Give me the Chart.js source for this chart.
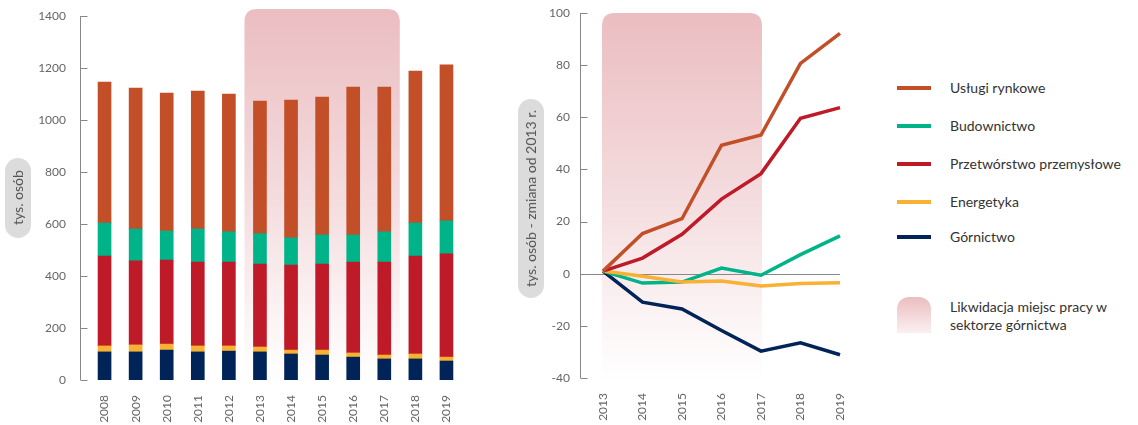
<!DOCTYPE html>
<html>
<head>
<meta charset="utf-8">
<script src="https://cdn.jsdelivr.net/npm/chart.js@4"></script>
<style>
  body { margin: 0; background: #fff; font-family: Lato, "Open Sans", sans-serif; }
  #wrap { position: relative; width: 1138px; height: 425px; overflow: hidden; }
  canvas { position: absolute; top: 0; }
  .pill {
    position: absolute; background: #dcdcdc; border-radius: 13px;
    writing-mode: vertical-rl; transform: rotate(180deg);
    display: flex; align-items: center; justify-content: center;
    font-size: 14px; color: #555; white-space: nowrap;
  }
  .leg { position: absolute; left: 897px; font-size: 14px; color: #333; }
  .leg i { position: absolute; left: 0; width: 34px; height: 4px; top: -2px; }
  .leg span { position: absolute; left: 53px; top: -9px; white-space: nowrap; line-height: 18px; }
  #shadeKey {
    position: absolute; left: 897px; top: 297px; width: 34px; height: 36px;
    border-radius: 12px 12px 0 0;
    background: linear-gradient(#ebbdc1, #fbf0f0);
  }
  #shadeTxt { position: absolute; left: 950px; top: 298px; font-size: 14px; color: #333; line-height: 18px; }
</style>
</head>
<body>
<div id="wrap">
  <canvas id="bars" width="480" height="425" style="left:0"></canvas>
  <canvas id="lines" width="370" height="425" style="left:490px"></canvas>
  <div class="pill" style="left:5px; top:158px; width:26px; height:80px;">tys. osób</div>
  <div class="pill" style="left:518px; top:99px; width:26px; height:199px;">tys. osób - zmiana od 2013 r.</div>
  <div id="legend"></div>
  <div id="shadeKey"></div>
  <div id="shadeTxt">Likwidacja miejsc pracy w<br>sektorze górnictwa</div>
</div>
<script>
// employment, thousands of people
const years = ['2008', '2009', '2010', '2011', '2012', '2013', '2014', '2015', '2016', '2017', '2018', '2019'];
const gornictwo = [108, 108, 115, 108, 111, 108, 100, 96, 88, 81, 81, 73];
const energetyka = [23, 27, 23, 23, 20, 19, 15, 19, 16, 15, 19, 15];
const przetworstwo = [346, 323, 323, 323, 323, 319, 327, 331, 350, 358, 377, 397];
const budownictwo = [127, 123, 112, 127, 116, 117, 105, 112, 104, 116, 127, 127];
const uslugi = [542, 542, 531, 530, 530, 510, 530, 530, 569, 557, 584, 600];

// change vs 2013
const chgYears = ['2013', '2014', '2015', '2016', '2017', '2018', '2019'];
const uslugiChg = [1, 15.4, 21.1, 49.3, 53.2, 80.7, 92.2];
const budownictwoChg = [1, -3.6, -3.2, 2.2, -0.6, 7.3, 14.5];
const przetworstwoChg = [1, 6, 15.1, 28.6, 38.4, 59.6, 63.7];
const energetykaChg = [1, -1, -3.2, -2.8, -4.7, -3.8, -3.5];
const gornictwoChg = [1, -10.9, -13.5, -21.8, -29.7, -26.5, -31.1];

const shadeFrom = '2013';
const shadeTo = '2017';

const COL = {
  uslugi: '#c24f27',
  bud: '#00b388',
  prz: '#be1a28',
  ener: '#f8b133',
  gor: '#002458'
};

const legendItems = [
  ['Usługi rynkowe', COL.uslugi, 88],
  ['Budownictwo', COL.bud, 126],
  ['Przetwórstwo przemysłowe', COL.prz, 164],
  ['Energetyka', COL.ener, 202],
  ['Górnictwo', COL.gor, 237]
];
let lg = document.getElementById('legend');
legendItems.forEach(function(it) {
  let d = document.createElement('div');
  d.className = 'leg';
  d.style.top = it[2] + 'px';
  d.innerHTML = '<i style="background:' + it[1] + '"></i><span>' + it[0] + '</span>';
  lg.appendChild(d);
});

// shaded band + hand drawn axis (ticks point inwards)
function makeDecor(cfg) {
  return {
    id: 'decor',
    beforeDatasetsDraw(chart) {
      const ctx = chart.ctx, ca = chart.chartArea;
      const xs = chart.scales.x, ys = chart.scales.y;
      const labels = chart.data.labels;
      let x0 = xs.getPixelForValue(labels.indexOf(shadeFrom)) - cfg.bandPad;
      let x1 = xs.getPixelForValue(labels.indexOf(shadeTo)) + cfg.bandPad;
      let top = ca.top - cfg.bandTop, bot = ca.bottom + 3, r = 13;
      let g = ctx.createLinearGradient(0, top, 0, bot);
      g.addColorStop(0, '#ebbdc1');
      g.addColorStop(0.5, '#f4dcde');
      g.addColorStop(1, 'rgba(255,255,255,0.9)');
      ctx.save();
      ctx.fillStyle = g;
      ctx.beginPath();
      ctx.moveTo(x0, bot);
      ctx.lineTo(x0, top + r);
      ctx.quadraticCurveTo(x0, top, x0 + r, top);
      ctx.lineTo(x1 - r, top);
      ctx.quadraticCurveTo(x1, top, x1, top + r);
      ctx.lineTo(x1, bot);
      ctx.closePath();
      ctx.fill();

      const ax = Math.round(ca.left - cfg.gap) + 0.5;
      ctx.strokeStyle = '#888';
      ctx.lineWidth = 1;
      ctx.beginPath();
      ctx.moveTo(ax, ca.top);
      ctx.lineTo(ax, ca.bottom);
      ys.ticks.forEach(function(t) {
        let y = Math.round(ys.getPixelForValue(t.value)) + 0.5;
        ctx.moveTo(ax, y);
        ctx.lineTo(ax + 7, y);
      });
      ctx.stroke();
      if (cfg.zero) {
        let y0 = Math.round(ys.getPixelForValue(0)) + 0.5;
        ctx.beginPath();
        ctx.moveTo(ax, y0);
        ctx.lineTo(ca.right, y0);
        ctx.stroke();
      }
      ctx.restore();
    }
  };
}

const tickFont = { family: 'Lato', size: 12 };
const plain = function(v) { return String(v); };

new Chart(document.getElementById('bars'), {
  type: 'bar',
  data: {
    labels: years,
    datasets: [
      { label: 'Górnictwo', data: gornictwo, backgroundColor: COL.gor },
      { label: 'Energetyka', data: energetyka, backgroundColor: COL.ener },
      { label: 'Przetwórstwo przemysłowe', data: przetworstwo, backgroundColor: COL.prz },
      { label: 'Budownictwo', data: budownictwo, backgroundColor: COL.bud },
      { label: 'Usługi rynkowe', data: uslugi, backgroundColor: COL.uslugi }
    ]
  },
  options: {
    responsive: false,
    animation: false,
    devicePixelRatio: 1,
    barThickness: 13,
    layout: { padding: { top: 16, right: 18 } },
    plugins: { legend: { display: false }, tooltip: { enabled: false } },
    scales: {
      x: {
        stacked: true,
        grid: { display: false, drawTicks: false },
        border: { display: false },
        ticks: { color: '#666', font: tickFont, minRotation: 90, maxRotation: 90, padding: 15 },
        afterFit: function(s) { s.height = 45; s.paddingLeft = 0; s.paddingRight = 0; }
      },
      y: {
        stacked: true,
        min: 0,
        max: 1400,
        grid: { display: false, drawTicks: false },
        border: { display: false },
        ticks: { stepSize: 200, color: '#666', font: tickFont, padding: 23, callback: plain },
        afterFit: function(s) { s.width = 89; s.paddingTop = 6; s.paddingBottom = 6; }
      }
    }
  },
  plugins: [makeDecor({ gap: 9.5, bandPad: 15.5, bandTop: 7, zero: false })]
});

new Chart(document.getElementById('lines'), {
  type: 'line',
  data: {
    labels: chgYears,
    datasets: [
      { label: 'Usługi rynkowe', data: uslugiChg, borderColor: COL.uslugi, order: 1 },
      { label: 'Przetwórstwo przemysłowe', data: przetworstwoChg, borderColor: COL.prz, order: 2 },
      { label: 'Energetyka', data: energetykaChg, borderColor: COL.ener, order: 3 },
      { label: 'Budownictwo', data: budownictwoChg, borderColor: COL.bud, order: 4 },
      { label: 'Górnictwo', data: gornictwoChg, borderColor: COL.gor, order: 5 }
    ]
  },
  options: {
    responsive: false,
    animation: false,
    devicePixelRatio: 1,
    elements: {
      line: { borderWidth: 3.5, tension: 0, borderJoinStyle: 'miter', fill: false },
      point: { radius: 0 }
    },
    layout: { padding: { top: 13, right: 20 } },
    plugins: { legend: { display: false }, tooltip: { enabled: false } },
    scales: {
      x: {
        grid: { display: false, drawTicks: false },
        border: { display: false },
        ticks: { color: '#666', font: tickFont, minRotation: 90, maxRotation: 90, padding: 15 },
        afterFit: function(s) { s.height = 47; s.paddingLeft = 0; s.paddingRight = 0; }
      },
      y: {
        min: -40,
        max: 100,
        grid: { display: false, drawTicks: false },
        border: { display: false },
        ticks: { stepSize: 20, color: '#666', font: tickFont, padding: 33, callback: plain },
        afterFit: function(s) { s.width = 113; s.paddingTop = 6; s.paddingBottom = 6; }
      }
    }
  },
  plugins: [makeDecor({ gap: 23, bandPad: 1, bandTop: 0, zero: true })]
});
</script>
</body>
</html>
